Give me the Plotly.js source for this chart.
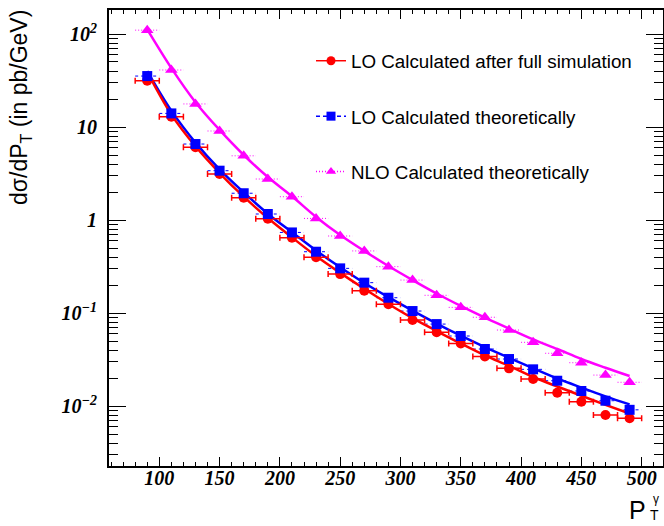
<!DOCTYPE html>
<html>
<head>
<meta charset="utf-8">
<script src="https://cdn.plot.ly/plotly-3.0.1.min.js"></script>
<style>
  html, body { margin: 0; padding: 0; background: #ffffff; }
  #chart { width: 664px; height: 526px; }
</style>
</head>
<body>
<div id="chart"></div>
<script>
// ---- data ----
const ptCenters = [90, 110, 130, 150, 170, 190, 210, 230, 250, 270, 290, 310, 330, 350, 370, 390, 410, 430, 450, 470, 490];
const binHalfWidth = [10, 10, 10, 10, 10, 10, 10, 10, 10, 10, 10, 10, 10, 10, 10, 10, 10, 10, 10, 10, 10];

const loFullSim = [31.5, 12.9, 6.05, 3.13, 1.74, 1.03, 0.644, 0.397, 0.262, 0.174, 0.124, 0.084, 0.062, 0.047, 0.034, 0.0254, 0.0195, 0.0139, 0.0111, 0.0080, 0.0074];
const loTheory = [35.3, 14.0, 6.56, 3.39, 1.94, 1.16, 0.735, 0.456, 0.302, 0.212, 0.146, 0.105, 0.076, 0.0566, 0.041, 0.032, 0.0248, 0.0187, 0.0145, 0.0114, 0.0091];
const nloTheory = [110, 41, 17.7, 9.06, 4.9, 2.76, 1.78, 1.04, 0.673, 0.465, 0.315, 0.226, 0.155, 0.115, 0.090, 0.0656, 0.0484, 0.0369, 0.0292, 0.0215, 0.018];

// fitted curves
const loFullSimFit = [39, 13.6, 6.2, 3.2, 1.78, 1.05, 0.65, 0.41, 0.27, 0.182, 0.125, 0.088, 0.064, 0.047, 0.035, 0.027, 0.0205, 0.0162, 0.0129, 0.0103, 0.0083];
const loTheoryFit = [40, 15, 6.8, 3.5, 1.98, 1.17, 0.74, 0.47, 0.31, 0.21, 0.148, 0.106, 0.077, 0.057, 0.043, 0.033, 0.0255, 0.0198, 0.0158, 0.0127, 0.0104];
const nloTheoryFit = [112, 43, 18.5, 9.3, 5.0, 2.9, 1.8, 1.08, 0.69, 0.465, 0.32, 0.226, 0.162, 0.119, 0.089, 0.068, 0.052, 0.041, 0.032, 0.0258, 0.021];

const seriesNames = ['LO Calculated after full simulation', 'LO Calculated theoretically', 'NLO Calculated theoretically'];

const yTickVals = [0.01, 0.1, 1, 10, 100];
const yTickText = ['10<sup>\u22122</sup>', '10<sup>\u22121</sup>', '1', '10', '10<sup>2</sup>'];
const xTickVals = [100, 150, 200, 250, 300, 350, 400, 450, 500];
const xTickText = ['100', '150', '200', '250', '300', '350', '400', '450', '500'];
const yMinorDigits = [2, 3, 4, 5, 6, 7, 8, 9];
const yMinorDecades = [0.001, 0.01, 0.1, 1, 10, 100];

// ---- helpers ----
function segments(xc, hw, yv) {
  const xs = [], ys = [];
  for (let i = 0; i < xc.length; i++) {
    xs.push(xc[i] - hw[i], xc[i] + hw[i], null);
    ys.push(yv[i], yv[i], null);
  }
  return {x: xs, y: ys};
}
const yMinorVals = [];
yMinorDecades.forEach(d => yMinorDigits.forEach(k => yMinorVals.push(k * d)));

const RED = '#ff0000', BLUE = '#0000ff', MAG = '#ff00ff';

const blueErr = segments(ptCenters, binHalfWidth, loTheory);
const magErr = segments(ptCenters, binHalfWidth, nloTheory);

const traces = [
  // error bars
  {x: magErr.x, y: magErr.y, type: 'scatter', mode: 'lines', line: {color: MAG, width: 1, dash: '1px,2px'}, showlegend: false, hoverinfo: 'skip'},
  {x: blueErr.x, y: blueErr.y, type: 'scatter', mode: 'lines', line: {color: BLUE, width: 1, dash: '3px,3px'}, showlegend: false, hoverinfo: 'skip'},
  // fit curves
  {x: ptCenters, y: nloTheoryFit, type: 'scatter', mode: 'lines', line: {color: MAG, width: 2.5, shape: 'spline', smoothing: 1}, showlegend: false},
  {x: ptCenters, y: loTheoryFit, type: 'scatter', mode: 'lines', line: {color: BLUE, width: 2.5, shape: 'spline', smoothing: 1}, showlegend: false},
  {x: ptCenters, y: loFullSimFit, type: 'scatter', mode: 'lines', line: {color: RED, width: 2.5, shape: 'spline', smoothing: 1}, showlegend: false},
  // points
  {x: ptCenters, y: loFullSim, type: 'scatter', mode: 'markers', marker: {color: RED, size: 10, symbol: 'circle'},
   error_x: {type: 'data', array: binHalfWidth, color: RED, thickness: 1.5, width: 3}, showlegend: false},
  {x: ptCenters, y: loTheory, type: 'scatter', mode: 'markers', marker: {color: BLUE, size: 10, symbol: 'square'}, showlegend: false},
  {x: ptCenters, y: nloTheory, type: 'scatter', mode: 'markers', marker: {color: MAG, size: 11, symbol: 'triangle-up'}, showlegend: false},
  // legend entries
  {x: [null], y: [null], type: 'scatter', mode: 'lines+markers', name: seriesNames[0], legendgroup: 'a',
   line: {color: RED, width: 1.5}, marker: {color: RED, size: 9, symbol: 'circle'}},
  {x: [null], y: [null], type: 'scatter', mode: 'lines+markers', name: seriesNames[1], legendgroup: 'b',
   line: {color: BLUE, width: 1.5, dash: '4px,3px'}, marker: {color: BLUE, size: 9, symbol: 'square'}},
  {x: [null], y: [null], type: 'scatter', mode: 'lines+markers', name: seriesNames[2], legendgroup: 'c',
   line: {color: MAG, width: 1.5, dash: '1px,2px'}, marker: {color: MAG, size: 9, symbol: 'triangle-up'}}
];

const L = 109, T = 10, W = 554, H = 456;
function px(xp) { return (xp - L) / W; }
function py(yp) { return 1 - (yp - T) / H; }

const tickFont = {family: 'Liberation Serif', size: 20, color: '#000', weight: 'bold', style: 'italic'};

const layout = {
  width: 664, height: 526,
  margin: {l: L, r: 664 - L - W, t: T, b: 526 - T - H, pad: 0},
  paper_bgcolor: '#ffffff', plot_bgcolor: '#ffffff',
  showlegend: true,
  legend: {
    x: px(311), y: py(42), xanchor: 'left', yanchor: 'top',
    bgcolor: 'rgba(0,0,0,0)', borderwidth: 0,
    font: {family: 'Liberation Sans', size: 18.8, color: '#000'},
    traceorder: 'grouped', tracegroupgap: 28
  },
  xaxis: {
    type: 'linear', range: [58.3, 517.7],
    showline: true, linecolor: '#000', linewidth: 2, mirror: 'allticks',
    ticks: 'inside', ticklen: 9, tickwidth: 1, tickcolor: '#000',
    tickmode: 'array', tickvals: xTickVals, ticktext: xTickText,
    tickfont: tickFont, ticklabelstandoff: -7,
    minor: {ticks: 'inside', ticklen: 4, tickwidth: 1, tickcolor: '#000', dtick: 10, tick0: 0, showgrid: false},
    showgrid: false, zeroline: false
  },
  yaxis: {
    type: 'log', range: [-2.645, 2.258],
    showline: true, linecolor: '#000', linewidth: 2, mirror: 'allticks',
    ticks: 'inside', ticklen: 17, tickwidth: 1, tickcolor: '#000',
    tickmode: 'array', tickvals: yTickVals, ticktext: yTickText,
    tickfont: tickFont, ticklabelstandoff: 6,
    minor: {ticks: 'inside', ticklen: 9, tickwidth: 1, tickcolor: '#000', tickmode: 'array', tickvals: yMinorVals, showgrid: false},
    showgrid: false, zeroline: false
  },
  annotations: [
    {xref: 'paper', yref: 'paper', x: px(20), y: py(108), xanchor: 'center', yanchor: 'middle',
     text: 'd\u03c3/dP<sub>T</sub> (in pb/GeV)', textangle: -90, showarrow: false,
     font: {family: 'Liberation Sans', size: 23, color: '#000'}},
    {xref: 'paper', yref: 'paper', x: px(648), y: py(510), xanchor: 'right', yanchor: 'middle',
     text: 'P', showarrow: false, font: {family: 'Liberation Sans', size: 25, color: '#000'}},
    {xref: 'paper', yref: 'paper', x: px(651), y: py(499), xanchor: 'left', yanchor: 'middle',
     text: '\u03b3', showarrow: false, font: {family: 'Liberation Sans', size: 12, color: '#000'}},
    {xref: 'paper', yref: 'paper', x: px(648), y: py(515), xanchor: 'left', yanchor: 'middle',
     text: 'T', showarrow: false, font: {family: 'Liberation Sans', size: 14, color: '#000'}}
  ]
};

Plotly.newPlot('chart', traces, layout, {staticPlot: true, displayModeBar: false});
</script>
</body>
</html>
